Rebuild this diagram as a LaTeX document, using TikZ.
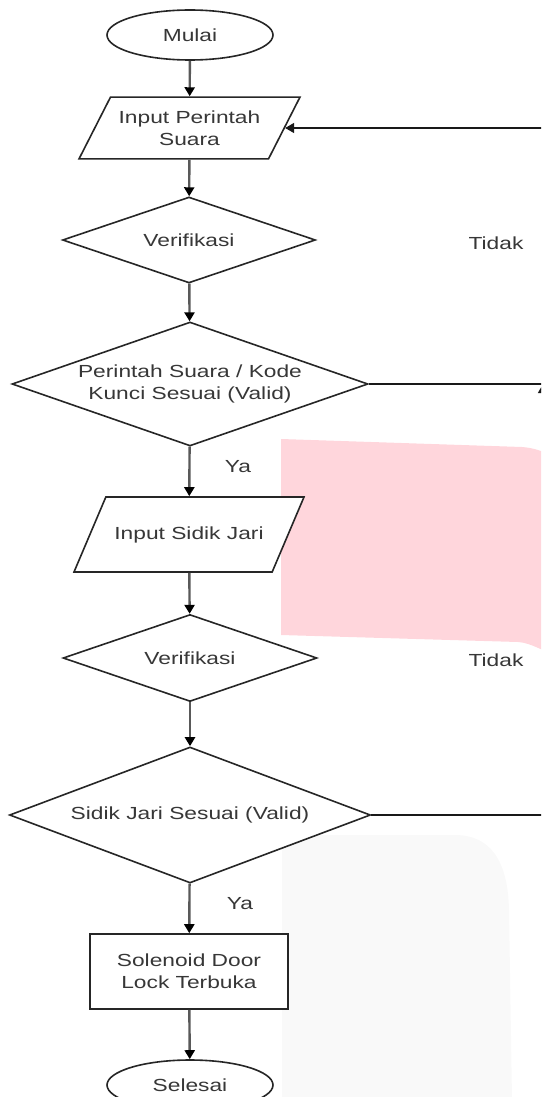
\documentclass[tikz,border=0pt]{standalone}
\usepackage{xcolor}
\usepackage{fontspec}
\setmainfont{Liberation Sans}[FakeStretch=1.3]
\usetikzlibrary{shapes.geometric,arrows.meta}

\definecolor{pinkpatch}{RGB}{255,214,220}
\definecolor{greypatch}{RGB}{249,249,249}
\definecolor{textgrey}{RGB}{55,55,55}

\tikzset{
  box/.style={draw=black!85,line width=1.6pt,fill=white,text=textgrey,
    font=\fontsize{17.5}{22}\selectfont,align=center,inner sep=0pt},
  terminal/.style={box,ellipse,minimum width=166pt,minimum height=50pt},
  inputbox/.style={box,trapezium,trapezium stretches body=true},
  decision/.style={box,diamond,aspect=2.9},
  process/.style={box,rectangle,minimum width=198pt,minimum height=75pt},
  flow/.style={line width=2.4pt,draw=black!65,-{Triangle[width=10pt,length=9pt,color=black]}},
  loopline/.style={line width=1.4pt,draw=black!90},
  label/.style={text=textgrey,font=\fontsize{17.5}{22}\selectfont}
}

\begin{document}
\begin{tikzpicture}[x=1pt,y=-1pt]

  \useasboundingbox (0,0) rectangle (541,1097);
  \clip (0,0) rectangle (541,1097);

  % background patches
  \fill[pinkpatch] (281,439) -- (522,447) .. controls (535,448) and (541,451) .. (560,458)
    -- (560,656) .. controls (541,651) and (532,643) .. (518,642) -- (281,635) -- cycle;
  \fill[greypatch] (282,1100) -- (282,835) -- (455,835)
    .. controls (490,835) and (508,860) .. (509,910) -- (512,1100) -- cycle;

  % Suara
  \node[terminal] (Mulai) at (190,35) {Mulai};
  \node[inputbox,trapezium left angle=63,trapezium right angle=117,
    minimum width=221pt,inner ysep=13.5pt] (InputSuara) at (189.5,128) {Input Perintah\\Suara};
  \node[decision,aspect=2.94,minimum width=253pt,minimum height=86pt] (VerifikasiA) at (189,240) {Verifikasi};
  \node[decision,aspect=2.87,minimum width=356pt,minimum height=124pt] (CekSuara) at (190,384) {Perintah Suara / Kode\\Kunci Sesuai (Valid)};

  % Sidik jari
  \node[inputbox,trapezium left angle=67,trapezium right angle=113,
    minimum width=230pt,text height=12.7pt,text depth=3.7pt,inner ysep=29.3pt] (InputJari) at (189,534.5) {Input Sidik Jari};
  \node[decision,aspect=2.92,minimum width=254pt,minimum height=87pt] (VerifikasiB) at (190,658) {Verifikasi};
  \node[decision,aspect=2.65,minimum width=361pt,minimum height=136pt] (CekJari) at (190,815) {Sidik Jari Sesuai (Valid)};
  \node[process] (Solenoid) at (189,971.5) {Solenoid Door\\Lock Terbuka};
  \node[terminal] (Selesai) at (190,1085) {Selesai};

  \node[label] (TidakA) at (496,243) {Tidak};
  \node[label] (TidakB) at (496,660) {Tidak};
  \node[label] (YaA) at (238,467) {Ya};
  \node[label] (YaB) at (240,904) {Ya};

  \coordinate (Balik) at (543,384);

\draw[flow] (Mulai) to (InputSuara);
\draw[flow] (InputSuara) to (VerifikasiA);
\draw[flow] (VerifikasiA) to (CekSuara);
\draw[flow] (CekSuara) to (InputJari);
\draw[flow] (InputJari) to (VerifikasiB);
\draw[flow] (VerifikasiB) to (CekJari);
\draw[flow] (CekJari) to (Solenoid);
\draw[flow] (Solenoid) to (Selesai);

\draw[loopline,-{Triangle[width=10pt,length=9pt]}] (CekSuara.east) -- (Balik) |- (InputSuara.east);
\draw[loopline,-{Triangle[width=10pt,length=9pt]}] (CekJari.east) -- (CekJari.east -| Balik) -- (Balik);

\end{tikzpicture}
\end{document}
